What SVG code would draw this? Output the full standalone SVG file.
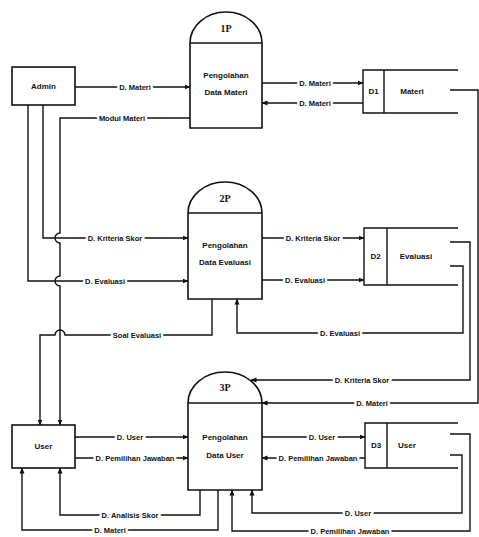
<svg xmlns="http://www.w3.org/2000/svg" width="479" height="537" viewBox="0 0 479 537">
<defs>
<marker id="ah" markerWidth="6" markerHeight="6" refX="5.5" refY="3" orient="auto" markerUnits="userSpaceOnUse">
<path d="M0,0.5 L6,3 L0,5.5 Z" fill="#111"/>
</marker>
<style>
.shape{fill:#fff;stroke:#111;stroke-width:1.6}
.ln{fill:none;stroke:#111;stroke-width:1.4}
.fl{fill:none;stroke:#111;stroke-width:1.4;marker-end:url(#ah)}
.lb{font-family:"Liberation Sans",Arial,sans-serif;font-size:7.5px;font-weight:bold;fill:#111;text-anchor:middle;dominant-baseline:central;stroke:#fff;stroke-width:5;stroke-linejoin:round;paint-order:stroke}
.tx{font-family:"Liberation Sans",Arial,sans-serif;font-size:8px;font-weight:bold;fill:#111;text-anchor:middle;dominant-baseline:central}
.num{font-family:"Liberation Serif","Times New Roman",serif;font-size:10px;font-weight:bold;fill:#111;text-anchor:middle;dominant-baseline:central}
</style>
</defs>
<rect width="479" height="537" fill="#fff"/>

<g id="connectors">
<path class="fl" d="M75,87 H190"/>
<path class="fl" d="M190,118 H60 V233 A5,5 0 0 0 60,243 V276 A5,5 0 0 0 60,286 V425"/>
<path class="fl" d="M43,105 V238 H188"/>
<path class="fl" d="M28,105 V281 H188"/>
<path class="fl" d="M262,83 H363"/>
<path class="fl" d="M363,103 H262"/>
<path class="fl" d="M450,90 H478 V403 H262"/>
<path class="fl" d="M262,238 H364"/>
<path class="fl" d="M262,280 H364"/>
<path class="fl" d="M450,242 H470 V380 H251"/>
<path class="fl" d="M450,266 H463 V333 H237 V299"/>
<path class="fl" d="M212,299 V335 H65 A5,5 0 0 0 55,335 H40 V425"/>
<path class="fl" d="M75,437 H188"/>
<path class="fl" d="M75,458 H188"/>
<path class="fl" d="M262,437 H365"/>
<path class="fl" d="M365,458 H262"/>
<path class="fl" d="M450,455 H462 V513 H252 V490"/>
<path class="fl" d="M450,434 H470 V531 H232 V490"/>
<path class="fl" d="M200,490 V515 H60 V468"/>
<path class="fl" d="M218,490 V530 H22 V468"/>

<text class="lb" x="135" y="87">D. Materi</text>
<text class="lb" x="122" y="118">Modul Materi</text>
<text class="lb" x="115" y="238">D. Kriteria Skor</text>
<text class="lb" x="105" y="281">D. Evaluasi</text>
<text class="lb" x="315" y="83">D. Materi</text>
<text class="lb" x="315" y="103">D. Materi</text>
<text class="lb" x="372" y="403">D. Materi</text>
<text class="lb" x="313" y="238">D. Kriteria Skor</text>
<text class="lb" x="305" y="280">D. Evaluasi</text>
<text class="lb" x="362" y="380">D. Kriteria Skor</text>
<text class="lb" x="340" y="333">D. Evaluasi</text>
<text class="lb" x="137" y="335">Soal Evaluasi</text>
<text class="lb" x="130" y="437">D. User</text>
<text class="lb" x="135" y="458">D. Pemilihan Jawaban</text>
<text class="lb" x="322" y="437">D. User</text>
<text class="lb" x="318" y="458">D. Pemilihan Jawaban</text>
<text class="lb" x="358" y="513">D. User</text>
<text class="lb" x="350" y="531">D. Pemilihan Jawaban</text>
<text class="lb" x="130" y="515">D. Analisis Skor</text>
<text class="lb" x="110" y="530">D. Materi</text>
</g>

<g id="admin">
<rect class="shape" x="12" y="67" width="63" height="38"/>
<text class="tx" x="43.5" y="86">Admin</text>
</g>

<g id="user">
<rect class="shape" x="12" y="425" width="63" height="43"/>
<text class="tx" x="43.5" y="446.5">User</text>
</g>

<g id="p1">
<path class="shape" d="M190,128 V43 A36,31 0 0 1 262,43 V128 Z"/>
<path class="ln" d="M190,43 H262"/>
<text class="num" x="226" y="28">1P</text>
<text class="tx" x="226" y="75">Pengolahan</text>
<text class="tx" x="226" y="92">Data Materi</text>
</g>

<g id="p2">
<path class="shape" d="M188,299 V213 A37,31 0 0 1 262,213 V299 Z"/>
<path class="ln" d="M188,213 H262"/>
<text class="num" x="225" y="198">2P</text>
<text class="tx" x="225" y="245">Pengolahan</text>
<text class="tx" x="225" y="262">Data Evaluasi</text>
</g>

<g id="p3">
<path class="shape" d="M188,490 V403 A37,31 0 0 1 262,403 V490 Z"/>
<path class="ln" d="M188,403 H262"/>
<text class="num" x="225" y="387">3P</text>
<text class="tx" x="225" y="437">Pengolahan</text>
<text class="tx" x="225" y="455">Data User</text>
</g>

<g id="d1">
<path class="ln" d="M458,70 H363 V113 H458 M384,70 V113" stroke-width="1.6"/>
<text class="tx" x="373.5" y="91.5">D1</text>
<text class="tx" x="412" y="91.5">Materi</text>
</g>

<g id="d2">
<path class="ln" d="M458,228 H364 V285 H458 M387,228 V285" stroke-width="1.6"/>
<text class="tx" x="375.5" y="256.5">D2</text>
<text class="tx" x="416" y="256.5">Evaluasi</text>
</g>

<g id="d3">
<path class="ln" d="M458,423 H365 V468 H458 M387,423 V468" stroke-width="1.6"/>
<text class="tx" x="376" y="445.5">D3</text>
<text class="tx" x="407" y="445.5">User</text>
</g>
</svg>
